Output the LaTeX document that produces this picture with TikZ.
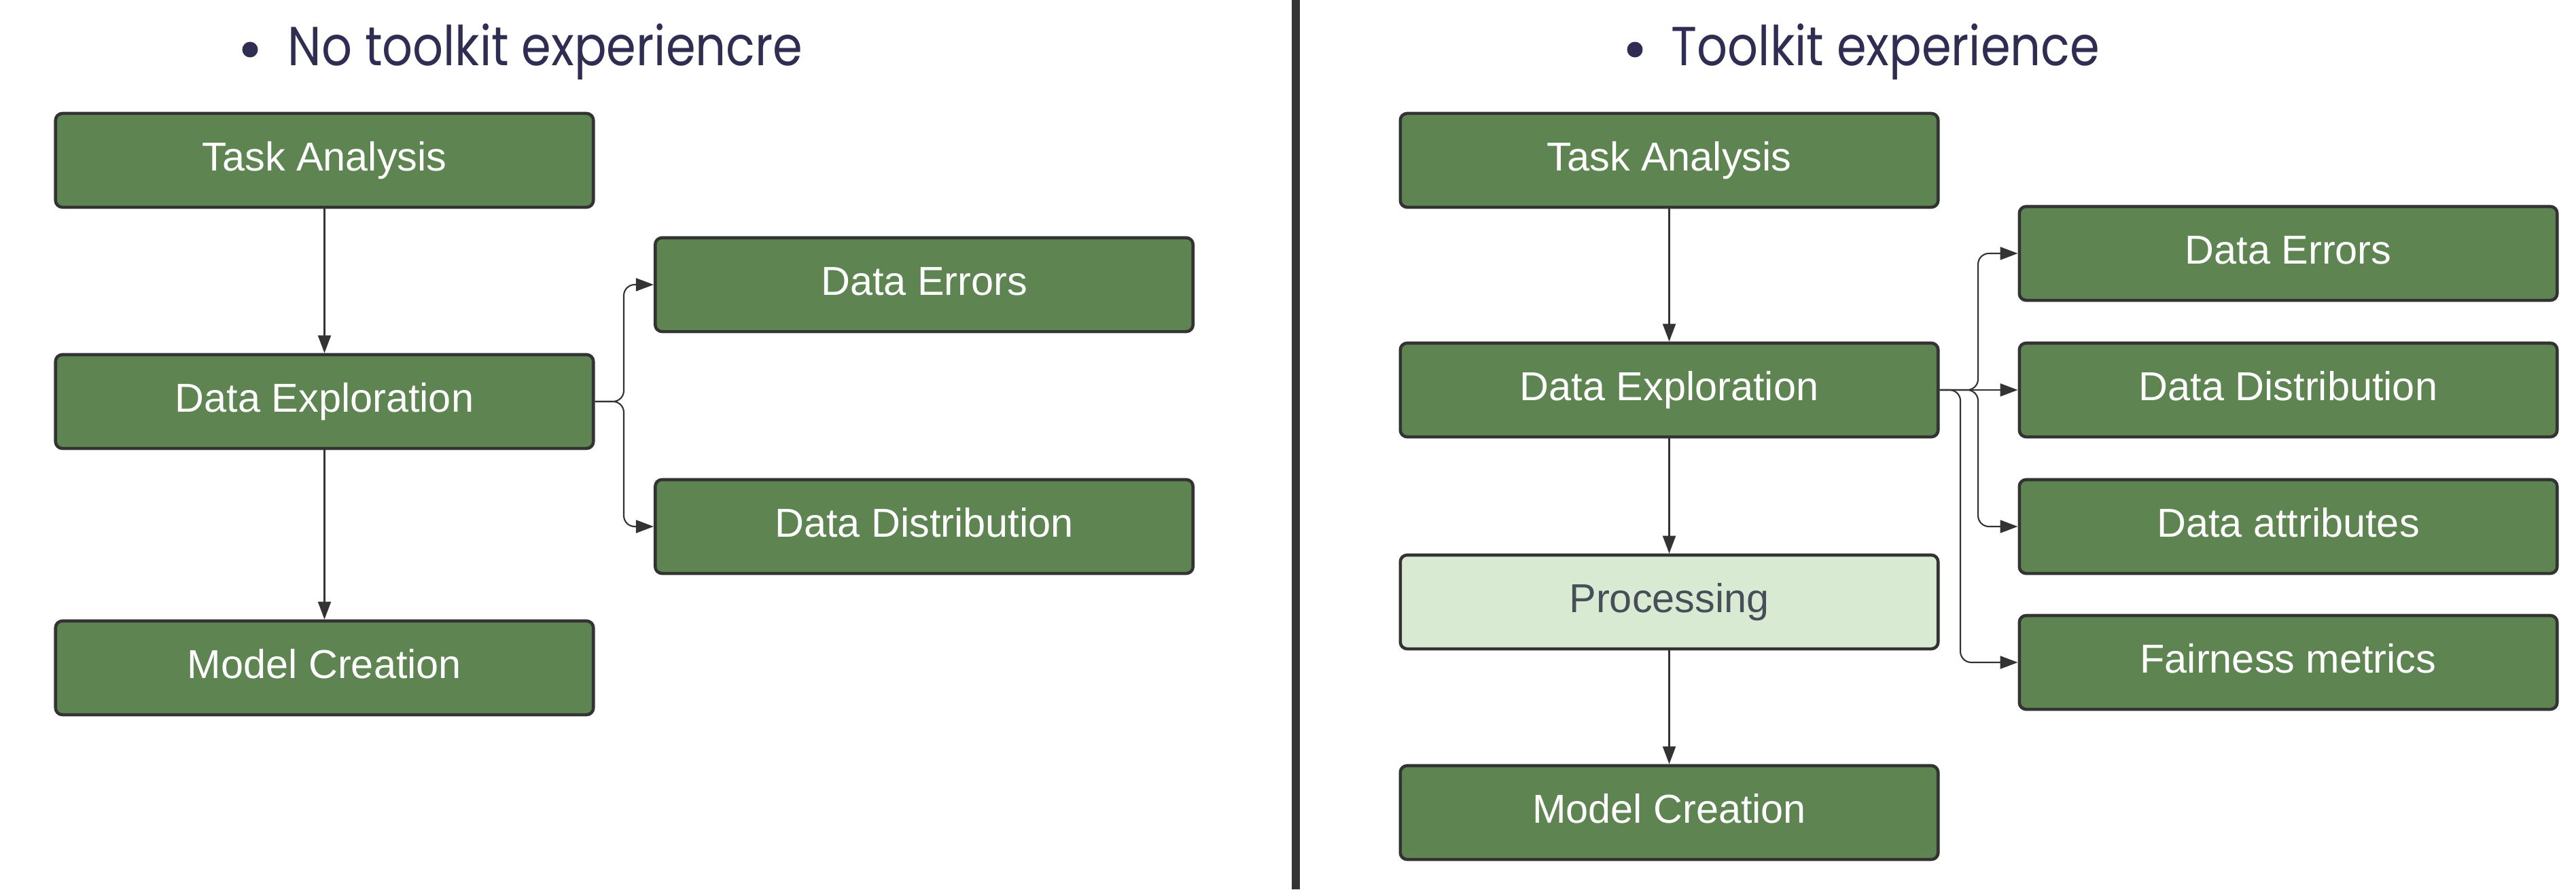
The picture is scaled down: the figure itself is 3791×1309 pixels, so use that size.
\documentclass[tikz,border=0pt]{standalone}
\usepackage{fontspec}
\setmainfont{Liberation Sans}
\newfontfamily\titlefont[FakeStretch=0.87]{Poppins}
\usetikzlibrary{arrows.meta}
\definecolor{boxgreen}{HTML}{5E8551}
\definecolor{boxlight}{HTML}{D9EAD3}
\definecolor{edgec}{HTML}{333333}
\definecolor{proctext}{HTML}{464E5A}
\definecolor{titlec}{HTML}{2F2D52}
\tikzset{
  stepbox/.style={draw=edgec, line width=1.3pt, rounded corners=0.1cm, fill=boxgreen,
    minimum width=7.91cm, minimum height=1.38cm, inner sep=0pt, text=white,
    text height=0.426cm, text depth=0.12cm,
    font=\fontsize{16.9}{20}\selectfont},
  lightbox/.style={stepbox, fill=boxlight, text=proctext},
  conn/.style={draw=edgec, line width=0.6pt, rounded corners=0.16cm,
    -{Triangle[length=0.26cm,width=0.19cm]}},
  ttl/.style={anchor=base west, inner sep=0pt, text=titlec, font=\titlefont\fontsize{23}{28}\selectfont},
  bul/.style={circle, fill=titlec, inner sep=0pt, minimum size=0.23cm}
}
\begin{document}
\begin{tikzpicture}[x=0.01cm,y=-0.01cm]
\useasboundingbox (0,0) rectangle (3791,1309);
% titles
\node[bul] (lbul) at (368,73) {};
\node[ttl] (ltitle) at (423,97) {No toolkit experiencre};
\node[bul] (rbul) at (2406,73) {};
\node[ttl] (rtitle) at (2459,97) {Toolkit experience};
% divider
\draw[edgec, line width=0.12cm] (1907,0) -- (1907,1309);
% left panel
\node[stepbox] (lta) at (477.5,236) {Task Analysis};
\node[stepbox] (lde) at (477.5,591) {Data Exploration};
\node[stepbox] (lmc) at (477.5,983) {Model Creation};
\node[stepbox] (lerr) at (1360,419) {Data Errors};
\node[stepbox] (ldist) at (1360,775) {Data Distribution};
\coordinate (lb) at (918,591);
\draw[conn] (lta.south) -- (lde.north);
\draw[conn] (lde.south) -- (lmc.north);
\draw[conn] (lde.east) -- (lb) |- (lerr.west);
\draw[conn] (lde.east) -- (lb) |- (ldist.west);
% right panel
\node[stepbox] (rta) at (2456.5,236) {Task Analysis};
\node[stepbox] (rde) at (2456.5,574) {Data Exploration};
\node[lightbox] (rproc) at (2456.5,886) {Processing};
\node[stepbox] (rmc) at (2456.5,1196) {Model Creation};
\node[stepbox] (rerr) at (3367.5,373) {Data Errors};
\node[stepbox] (rdist) at (3367.5,574) {Data Distribution};
\node[stepbox] (rattr) at (3367.5,775) {Data attributes};
\node[stepbox] (rfair) at (3367.5,975) {Fairness metrics};
\coordinate (rb1) at (2911,574);
\coordinate (rb2) at (2885,574);
\draw[conn] (rta.south) -- (rde.north);
\draw[conn] (rde.south) -- (rproc.north);
\draw[conn] (rproc.south) -- (rmc.north);
\draw[conn] (rde.east) -- (rdist.west);
\draw[conn] (rde.east) -- (rb1) |- (rerr.west);
\draw[conn] (rde.east) -- (rb1) |- (rattr.west);
\draw[conn] (rde.east) -- (rb2) |- (rfair.west);
\end{tikzpicture}
\end{document}
